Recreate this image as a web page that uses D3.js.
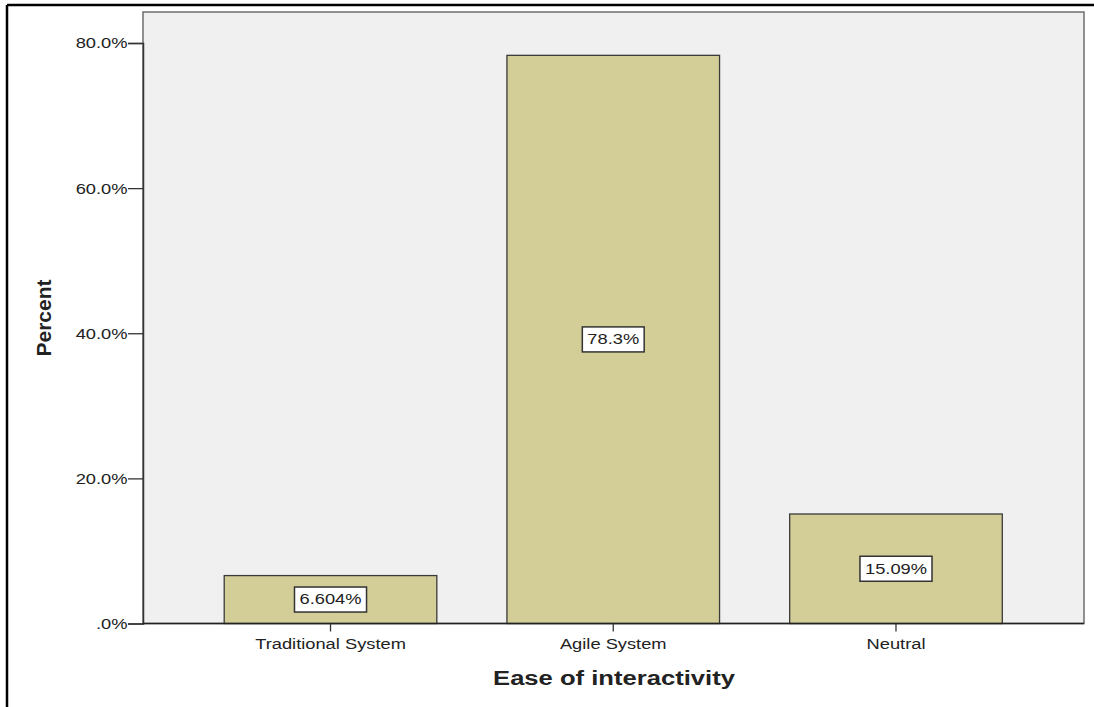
<!DOCTYPE html>
<html>
<head>
<meta charset="utf-8">
<script src="https://cdn.jsdelivr.net/npm/d3@7"></script>
<style>
  html, body { margin: 0; padding: 0; background: #fff; }
  svg { display: block; }
  text { font-family: "Liberation Sans", Arial, sans-serif; fill: #222; }
</style>
</head>
<body>
<svg id="chart" width="1094" height="707"></svg>
<script>
// Ease of interactivity – percent of respondents per option
const categories = ["Traditional System", "Agile System", "Neutral"];
const percents = [6.604, 78.3, 15.09];
const valueLabels = ["6.604%", "78.3%", "15.09%"];
const yTicks = [0, 20, 40, 60, 80];
const yTickLabels = [".0%", "20.0%", "40.0%", "60.0%", "80.0%"];

const svg = d3.select("#chart");
const W = 1094, H = 707;
const STRETCH = 1.22; // wide horizontal rendering of the label font

// plot frame
const plot = { left: 143, right: 1084, top: 12, bottom: 623.5 };

const y = d3.scaleLinear().domain([0, 80]).range([plot.bottom, 43]);
const x = d3.scaleBand()
  .domain(categories)
  .range([189.15, 1037.35])
  .paddingInner(0.248)
  .paddingOuter(0.124);

// outer border (top and left)
svg.append("line").attr("x1", 7).attr("y1", 5).attr("x2", W).attr("y2", 5)
  .attr("stroke", "#000").attr("stroke-width", 2.5);
svg.append("line").attr("x1", 7).attr("y1", 5).attr("x2", 7).attr("y2", H)
  .attr("stroke", "#000").attr("stroke-width", 2.5);

// plot background
svg.append("rect")
  .attr("x", plot.left).attr("y", plot.top)
  .attr("width", plot.right - plot.left).attr("height", plot.bottom - plot.top)
  .attr("fill", "#f0f0f0").attr("stroke", "#6e6e6e").attr("stroke-width", 1.5);

// bars
svg.append("g").selectAll("rect")
  .data(percents)
  .join("rect")
  .attr("x", (d, i) => x(categories[i]))
  .attr("y", d => y(d))
  .attr("width", x.bandwidth())
  .attr("height", d => y(0) - y(d))
  .attr("fill", "#d3cd97")
  .attr("stroke", "#3a3a3a")
  .attr("stroke-width", 1.3);

// y axis
const yAxis = svg.append("g").attr("transform", `translate(${plot.left},0)`)
  .call(d3.axisLeft(y).tickValues(yTicks).tickSize(15).tickFormat((d, i) => yTickLabels[i]));
yAxis.select(".domain").attr("stroke", "#333").attr("stroke-width", 1.5);
yAxis.selectAll(".tick line").attr("stroke", "#333").attr("stroke-width", 1.3);
yAxis.selectAll(".tick text")
  .attr("x", null).attr("dy", null)
  .attr("font-family", "Liberation Sans, Arial, sans-serif")
  .attr("font-size", 15).attr("fill", "#222")
  .attr("text-anchor", "end")
  .attr("dominant-baseline", "central")
  .attr("transform", `translate(-15.5,0) scale(${STRETCH},1)`);

// x axis
const xAxis = svg.append("g").attr("transform", `translate(0,${plot.bottom})`)
  .call(d3.axisBottom(x).tickSize(8).tickSizeOuter(0));
xAxis.select(".domain").attr("d", `M${plot.left},0H${plot.right}`)
  .attr("stroke", "#222").attr("stroke-width", 1.5);
xAxis.selectAll(".tick line").attr("stroke", "#333").attr("stroke-width", 1.3);
xAxis.selectAll(".tick text")
  .attr("y", null).attr("dy", null)
  .attr("font-family", "Liberation Sans, Arial, sans-serif")
  .attr("font-size", 15).attr("fill", "#222")
  .attr("transform", `translate(0,25.5) scale(${STRETCH},1)`);

// value labels in boxes at mid-height of each bar
const lab = svg.append("g").selectAll("g")
  .data(percents)
  .join("g")
  .attr("transform", (d, i) =>
    `translate(${x(categories[i]) + x.bandwidth() / 2},${(y(d) + y(0)) / 2})`);
lab.each(function(d, i) {
  const g = d3.select(this);
  const box = g.append("rect");
  const t = g.append("text")
    .attr("text-anchor", "middle")
    .attr("dominant-baseline", "central")
    .attr("font-size", 15)
    .attr("transform", `scale(${STRETCH},1)`)
    .text(valueLabels[i]);
  const w = t.node().getComputedTextLength() * STRETCH + 10;
  box.attr("x", -w / 2).attr("y", -12.5).attr("width", w).attr("height", 25)
    .attr("fill", "#fff").attr("stroke", "#333").attr("stroke-width", 1.5);
});

// axis titles
svg.append("text")
  .attr("transform", `translate(${(plot.left + plot.right) / 2 + 0.5},685) scale(${STRETCH},1)`)
  .attr("text-anchor", "middle")
  .attr("font-size", 21).attr("font-weight", "bold").attr("fill", "#111")
  .text("Ease of interactivity");

svg.append("text")
  .attr("transform", "translate(51,318) rotate(-90)")
  .attr("text-anchor", "middle")
  .attr("font-size", 21).attr("font-weight", "bold").attr("fill", "#111")
  .text("Percent");
</script>
</body>
</html>
